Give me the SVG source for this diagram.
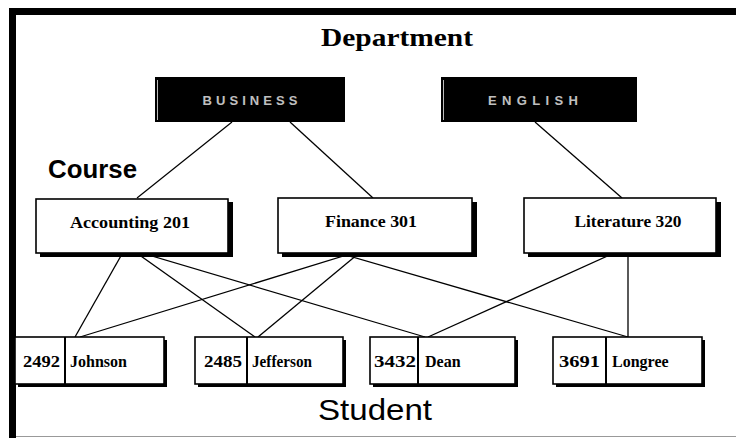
<svg xmlns="http://www.w3.org/2000/svg" width="736" height="438" viewBox="0 0 736 438">
  <style>
    .frame { fill: #000; }
    .dept { fill: #000; }
    .dept-label { font-family: "Liberation Sans", Arial, sans-serif; font-size: 13px; font-weight: bold; fill: #fff; opacity: 0.75; text-anchor: middle; }
    .box { fill: #fff; stroke: #000; stroke-width: 1.6; }
    .shadow { fill: #000; }
    .course-label { font-family: "Liberation Serif", "Times New Roman", serif; font-size: 17px; font-weight: bold; fill: #000; text-anchor: middle; }
    .student-label { font-family: "Liberation Serif", "Times New Roman", serif; font-size: 16px; font-weight: bold; fill: #000; }
    .heading { font-family: "Liberation Sans", Arial, sans-serif; fill: #000; }
    .heading-serif { font-family: "Liberation Serif", "Times New Roman", serif; fill: #000; }
    .link { stroke: #000; stroke-width: 1.3; fill: none; }
  </style>

  <!-- outer frame -->
  <rect x="0" y="0" width="736" height="438" fill="#fff"/>
  <rect class="frame" x="9" y="8" width="727" height="7"/>
  <rect class="frame" x="9" y="8" width="7" height="430"/>
  <line x1="16" y1="436.5" x2="736" y2="436.5" stroke="#999" stroke-width="1"/>

  <!-- level headings -->
  <text class="heading-serif" x="397" y="46" font-size="25" font-weight="bold" text-anchor="middle" textLength="152" lengthAdjust="spacingAndGlyphs">Department</text>
  <text class="heading" x="48" y="178" font-size="26" font-weight="bold" textLength="89" lengthAdjust="spacingAndGlyphs">Course</text>
  <text class="heading" x="318" y="420" font-size="30" textLength="114" lengthAdjust="spacingAndGlyphs">Student</text>

  <!-- connectors -->
  <g id="connectors">
    <line class="link" x1="232" y1="122" x2="137" y2="198"/>
    <line class="link" x1="290" y1="122" x2="373" y2="198"/>
    <line class="link" x1="535" y1="122" x2="622" y2="198"/>

    <line class="link" x1="122" y1="254" x2="75" y2="337"/>
    <line class="link" x1="138" y1="254" x2="255" y2="337"/>
    <line class="link" x1="145" y1="254" x2="425" y2="337"/>
    <line class="link" x1="350" y1="254" x2="80" y2="337"/>
    <line class="link" x1="358" y1="254" x2="258" y2="337"/>
    <line class="link" x1="342" y1="254" x2="628" y2="337"/>
    <line class="link" x1="612" y1="254" x2="428" y2="337"/>
    <line class="link" x1="628" y1="254" x2="628" y2="337"/>
  </g>

  <!-- departments -->
  <g id="dept-business">
    <rect class="dept" x="155" y="77" width="190" height="45"/>
    <line x1="157.5" y1="80" x2="157.5" y2="120" stroke="#bbb" stroke-width="1"/>
    <text class="dept-label" x="250" y="105" textLength="95" lengthAdjust="spacing">BUSINESS</text>
  </g>
  <g id="dept-english">
    <rect class="dept" x="441" y="77" width="196" height="45"/>
    <line x1="443.5" y1="80" x2="443.5" y2="120" stroke="#bbb" stroke-width="1"/>
    <text class="dept-label" x="533" y="105" textLength="90" lengthAdjust="spacing">ENGLISH</text>
  </g>

  <!-- courses -->
  <g id="course-accounting">
    <rect class="shadow" x="40" y="202" width="193" height="55"/>
    <rect class="box" x="36" y="199" width="192" height="54"/>
    <text class="course-label" x="130" y="228" textLength="120" lengthAdjust="spacingAndGlyphs">Accounting 201</text>
  </g>
  <g id="course-finance">
    <rect class="shadow" x="282" y="202" width="195" height="55"/>
    <rect class="box" x="278" y="198" width="194" height="55"/>
    <text class="course-label" x="371" y="227" textLength="92" lengthAdjust="spacingAndGlyphs">Finance 301</text>
  </g>
  <g id="course-literature">
    <rect class="shadow" x="528" y="202" width="193" height="55"/>
    <rect class="box" x="524" y="198" width="192" height="55"/>
    <text class="course-label" x="628" y="227" textLength="107" lengthAdjust="spacingAndGlyphs">Literature 320</text>
  </g>

  <!-- students -->
  <g id="student-johnson">
    <rect class="shadow" x="18" y="340" width="149" height="47"/>
    <rect class="box" x="15" y="337" width="149" height="47"/>
    <line x1="65" y1="337" x2="65" y2="384" stroke="#000" stroke-width="2"/>
    <text class="student-label" x="23" y="367" textLength="37" lengthAdjust="spacingAndGlyphs">2492</text>
    <text class="student-label" x="70" y="367">Johnson</text>
  </g>
  <g id="student-jefferson">
    <rect class="shadow" x="198" y="340" width="148" height="47"/>
    <rect class="box" x="195" y="337" width="148" height="47"/>
    <line x1="247" y1="337" x2="247" y2="384" stroke="#000" stroke-width="2"/>
    <text class="student-label" x="204" y="367" textLength="38" lengthAdjust="spacingAndGlyphs">2485</text>
    <text class="student-label" x="252" y="367" textLength="60" lengthAdjust="spacingAndGlyphs">Jefferson</text>
  </g>
  <g id="student-dean">
    <rect class="shadow" x="373" y="340" width="145" height="47"/>
    <rect class="box" x="370" y="337" width="145" height="47"/>
    <line x1="418" y1="337" x2="418" y2="384" stroke="#000" stroke-width="2"/>
    <text class="student-label" x="374" y="367" textLength="42" lengthAdjust="spacingAndGlyphs">3432</text>
    <text class="student-label" x="425" y="367">Dean</text>
  </g>
  <g id="student-longree">
    <rect class="shadow" x="556" y="340" width="149" height="47"/>
    <rect class="box" x="553" y="337" width="149" height="47"/>
    <line x1="606" y1="337" x2="606" y2="384" stroke="#000" stroke-width="2"/>
    <text class="student-label" x="559" y="367" textLength="41" lengthAdjust="spacingAndGlyphs">3691</text>
    <text class="student-label" x="612" y="367">Longree</text>
  </g>
</svg>
